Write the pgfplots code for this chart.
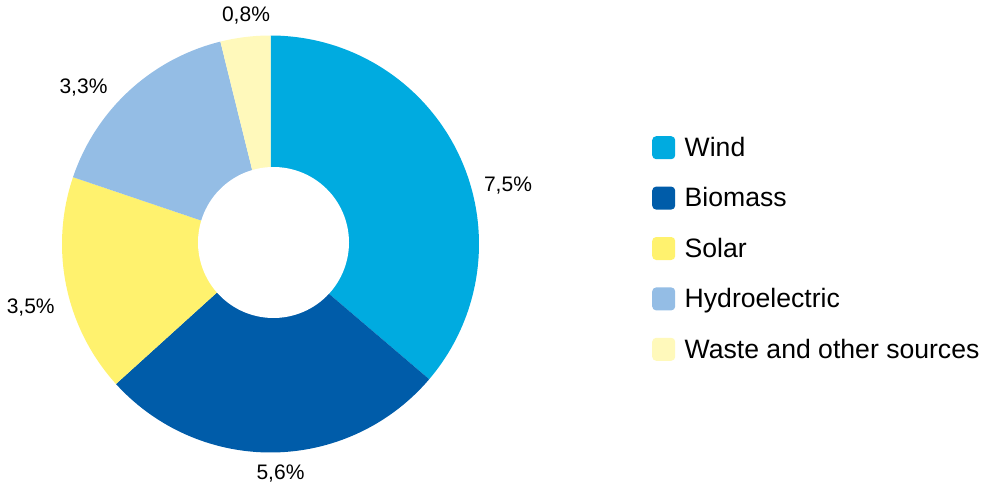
\documentclass[border=0pt]{standalone}
\usepackage{pgfplots}
\pgfplotsset{compat=1.18}
\usepackage{fontspec}
\setmainfont{Liberation Sans}
\definecolor{windc}{HTML}{00ABE0}
\definecolor{biomc}{HTML}{005CA9}
\definecolor{solarc}{HTML}{FFF26E}
\definecolor{hydroc}{HTML}{94BDE5}
\definecolor{wastec}{HTML}{FFF9BB}
% data values (percent)
\def\vWind{7.5}
\def\vBiom{5.6}
\def\vSolar{3.5}
\def\vHydro{3.3}
\def\vWaste{0.8}
\pgfmathsetmacro{\tot}{\vWind+\vBiom+\vSolar+\vHydro+\vWaste}
\pgfmathsetmacro{\aA}{90}
\pgfmathsetmacro{\aB}{\aA-360*\vWind/\tot}
\pgfmathsetmacro{\aC}{\aB-360*\vBiom/\tot}
\pgfmathsetmacro{\aD}{\aC-360*\vSolar/\tot}
\pgfmathsetmacro{\aE}{\aD-360*\vHydro/\tot}
\pgfmathsetmacro{\aF}{\aE-360*\vWaste/\tot}
\def\cx{270.5}
\def\cy{241}
\def\R{208.5}
\begin{document}
\begin{tikzpicture}
\begin{axis}[
  x=1pt, y=1pt, xmin=0, xmax=996, ymin=0, ymax=485,
  hide axis, clip=false,
  legend style={at={(axis cs:652,349)}, anchor=north west, draw=none, fill=none,
    inner sep=0pt, row sep=27.4pt,
    font=\fontsize{26.6}{30}\selectfont,
    nodes={inner sep=0pt, text depth=0.15em}},
  legend cell align=left,
  /tikz/column 1/.style={column sep=9.5pt},
  legend image code/.code={\fill[#1, draw=none, rounded corners=4pt] (0pt,-11.5pt) rectangle (23pt,11.5pt);},
]
\addplot[draw=none, forget plot] coordinates {(0,0) (996,485)};
\addplot[fill=windc, draw=none, domain=\aB:\aA, samples=90] ({\cx+\R*cos(x)},{\cy+\R*sin(x)}) -- (axis cs:\cx,\cy) -- cycle;
\addlegendentry{Wind}
\addplot[fill=biomc, draw=none, domain=\aC:\aB, samples=70] ({\cx+\R*cos(x)},{\cy+\R*sin(x)}) -- (axis cs:\cx,\cy) -- cycle;
\addlegendentry{Biomass}
\addplot[fill=solarc, draw=none, domain=\aD:\aC, samples=50] ({\cx+\R*cos(x)},{\cy+\R*sin(x)}) -- (axis cs:\cx,\cy) -- cycle;
\addlegendentry{Solar}
\addplot[fill=hydroc, draw=none, domain=\aE:\aD, samples=50] ({\cx+\R*cos(x)},{\cy+\R*sin(x)}) -- (axis cs:\cx,\cy) -- cycle;
\addlegendentry{Hydroelectric}
\addplot[fill=wastec, draw=none, domain=\aF:\aE, samples=20] ({\cx+\R*cos(x)},{\cy+\R*sin(x)}) -- (axis cs:\cx,\cy) -- cycle;
\addlegendentry{Waste and other sources}
\addplot[fill=white, draw=none, domain=0:360, samples=120, forget plot] ({273.5+75.5*cos(x)},{242.5+75.5*sin(x)}) -- cycle;
\begin{scope}[every node/.style={font=\fontsize{21}{24}\selectfont, inner sep=0pt}]
\node at (axis cs:508,299.3) {7,5\%};
\node at (axis cs:280.5,11) {5,6\%};
\node at (axis cs:30.7,177) {3,5\%};
\node at (axis cs:83.5,397) {3,3\%};
\node at (axis cs:246,469.2) {0,8\%};
\end{scope}
\end{axis}
\end{tikzpicture}
\end{document}
